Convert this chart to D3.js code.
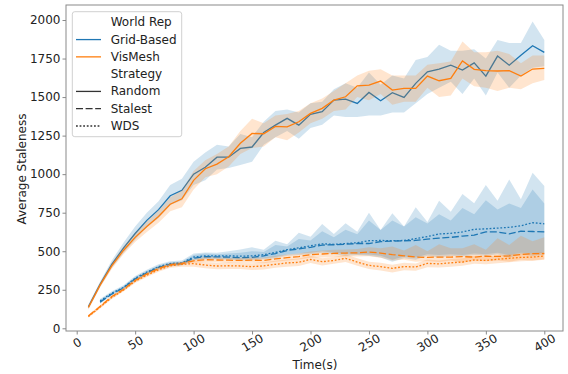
<!DOCTYPE html>
<html><head><meta charset="utf-8">
<script src="https://cdn.jsdelivr.net/npm/d3@7"></script>
<style>body{margin:0;background:#fff}svg{display:block}text{font-family:"DejaVu Sans",sans-serif;fill:#222}</style>
</head><body><svg id="c" width="568" height="374"></svg>
<script>
// ---------- data ----------
const timeFull = [10,20,30,40,50,60,70,80,90,100,110,120,130,140,150,160,170,180,190,200,210,220,230,240,250,260,270,280,290,300,310,320,330,340,350,360,370,380,390,400];
const timeGrid = [20,30,40,50,60,70,80,90,100,110,120,130,140,150,160,170,180,190,200,210,220,230,240,250,260,270,280,290,300,310,320,330,340,350,360,370,380,390,400];
const xTicks = [0,50,100,150,200,250,300,350,400];
const yTicks = [0,250,500,750,1000,1250,1500,1750,2000];
const worldReps = ["Grid-Based","VisMesh"];
const strategies = ["Random","Stalest","WDS"];

const gridRandomMean = [140,285,415,520,615,700,770,860,895,1000,1045,1110,1110,1167,1176,1270,1318,1362,1318,1388,1405,1480,1487,1459,1530,1476,1528,1498,1589,1664,1682,1707,1675,1722,1636,1766,1707,1772,1833,1790];
const gridRandomLo = [125,268,392,488,575,655,715,800,830,930,960,1030,1040,1060,1080,1190,1240,1280,1230,1300,1320,1380,1370,1370,1380,1380,1400,1400,1460,1520,1560,1600,1520,1620,1510,1660,1560,1640,1690,1700];
const gridRandomHi = [155,302,440,555,660,750,825,930,970,1080,1140,1190,1180,1260,1240,1340,1410,1420,1400,1460,1470,1550,1590,1560,1660,1580,1640,1620,1740,1760,1840,1800,1800,1810,1750,1870,1850,1850,1990,1870];

const gridStalestMean = [170,222,262,320,360,395,415,420,455,465,463,462,458,460,470,485,505,515,525,540,542,545,550,550,562,566,568,570,578,585,590,598,605,625,625,612,630,628,625];
const gridStalestLo = [160,212,252,308,348,382,402,408,440,448,448,445,440,442,448,455,470,475,480,490,480,470,475,470,460,432,455,445,470,460,470,465,475,470,480,460,480,470,478];
const gridStalestHi = [180,232,272,332,372,408,428,432,475,485,480,485,490,500,495,540,530,580,570,630,590,640,610,700,637,700,660,720,680,740,700,780,740,830,770,810,780,900,810];

const gridWdsMean = [178,228,265,325,365,400,420,425,462,470,470,470,468,470,478,492,510,522,535,548,545,550,555,568,570,568,570,582,595,612,616,625,642,645,650,655,665,685,678];
const gridWdsLo = [165,218,255,312,352,388,408,412,445,452,452,450,448,450,455,462,478,485,490,500,490,485,480,478,470,445,465,460,480,475,480,475,485,480,490,475,490,485,490];
const gridWdsHi = [190,240,280,340,380,415,435,440,485,492,490,500,512,525,510,568,545,620,594,676,612,681,627,750,637,746,660,785,690,827,756,871,811,929,827,966,837,1009,923];

const visRandomMean = [135,280,405,505,590,660,725,805,840,960,1035,1065,1113,1200,1264,1262,1310,1307,1340,1394,1427,1480,1502,1573,1578,1604,1545,1556,1556,1636,1606,1621,1735,1680,1671,1669,1671,1636,1682,1686];
const visRandomLo = [120,265,385,480,560,625,685,760,785,900,980,1000,1050,1130,1170,1180,1240,1220,1270,1330,1360,1410,1420,1500,1480,1520,1450,1470,1470,1560,1500,1510,1620,1570,1560,1540,1560,1550,1590,1610];
const visRandomHi = [150,295,425,530,620,695,765,850,895,1020,1090,1130,1180,1280,1360,1330,1380,1390,1410,1460,1490,1540,1590,1640,1670,1680,1640,1640,1640,1710,1720,1730,1860,1790,1790,1800,1780,1720,1770,1770];

const visStalestMean = [80,142,206,252,310,352,388,412,420,438,445,443,442,440,442,440,450,458,465,478,482,486,488,490,495,488,478,470,462,460,462,462,465,462,468,466,470,478,485,485];
const visStalestLo = [72,132,196,242,300,342,378,402,410,425,430,428,426,424,425,422,432,440,446,458,460,462,465,466,468,458,440,445,432,436,430,440,425,440,435,440,432,445,440,448];
const visStalestHi = [88,150,215,262,320,362,398,422,430,450,462,460,458,458,460,458,470,478,485,498,505,510,512,515,525,520,530,505,540,500,545,520,520,545,510,584,540,600,565,590];

const visWdsMean = [76,138,200,248,305,345,380,405,415,420,410,404,406,404,400,405,415,424,428,447,432,440,454,430,408,400,389,400,398,421,418,425,430,443,440,448,454,460,462,469];
const visWdsLo = [68,128,190,238,294,333,367,392,400,400,390,383,385,384,378,382,392,400,404,424,408,418,430,405,384,375,362,376,374,396,394,400,405,418,415,422,428,435,438,444];
const visWdsHi = [84,148,210,258,316,357,393,418,430,440,430,425,428,424,422,428,438,447,452,470,455,462,478,455,432,425,412,425,420,446,440,450,455,470,465,472,480,485,488,495];

// ---------- build series ----------
const colors = {"Grid-Based":"#1f77b4","VisMesh":"#ff7f0e"};
const dashes = {"Random":null,"Stalest":"7,2.6","WDS":"1.8,1.8"};
function mk(rep, strat, t, m, lo, hi){
  return {rep, strat, pts: t.map((x,i)=>({x, m:m[i], lo:lo[i], hi:hi[i]}))};
}
const series = [
  mk("Grid-Based","Random",timeFull,gridRandomMean,gridRandomLo,gridRandomHi),
  mk("Grid-Based","Stalest",timeGrid,gridStalestMean,gridStalestLo,gridStalestHi),
  mk("Grid-Based","WDS",timeGrid,gridWdsMean,gridWdsLo,gridWdsHi),
  mk("VisMesh","Random",timeFull,visRandomMean,visRandomLo,visRandomHi),
  mk("VisMesh","Stalest",timeFull,visStalestMean,visStalestLo,visStalestHi),
  mk("VisMesh","WDS",timeFull,visWdsMean,visWdsLo,visWdsHi)
];

// ---------- layout ----------
const svg = d3.select("#c");
const frame = {l:66, r:563, t:5, b:331};
const x = d3.scaleLinear().domain([0,400]).range([76.7,544.3]);
const y = d3.scaleLinear().domain([0,2000]).range([328.3,20]);
const axisCol = "#8a8a8a";

svg.append("clipPath").attr("id","pc").append("rect")
  .attr("x",frame.l).attr("y",frame.t).attr("width",frame.r-frame.l).attr("height",frame.b-frame.t);

const g = svg.append("g").attr("clip-path","url(#pc)");
const line = d3.line().x(d=>x(d.x)).y(d=>y(d.m));
const area = d3.area().x(d=>x(d.x)).y0(d=>y(d.lo)).y1(d=>y(d.hi));

series.forEach(s=>{
  g.append("path").datum(s.pts).attr("d",line)
    .attr("fill","none").attr("stroke",colors[s.rep]).attr("stroke-width",1.3)
    .attr("stroke-dasharray",dashes[s.strat]);
  g.append("path").datum(s.pts).attr("d",area)
    .attr("fill",colors[s.rep]).attr("fill-opacity",0.2).attr("stroke","none");
});

// frame
svg.append("rect").attr("x",frame.l).attr("y",frame.t)
  .attr("width",frame.r-frame.l).attr("height",frame.b-frame.t)
  .attr("fill","none").attr("stroke",axisCol).attr("stroke-width",1);

// y axis
const yAx = svg.append("g").attr("transform",`translate(${frame.l},0)`)
  .call(d3.axisLeft(y).tickValues(yTicks).tickFormat(d3.format("d")).tickSize(3.5).tickPadding(2));
yAx.select(".domain").remove();
yAx.selectAll("line").attr("stroke",axisCol);
yAx.selectAll("text").attr("font-size","12px").attr("fill","#222")
  .attr("font-family","DejaVu Sans, sans-serif");

// x axis
const xAx = svg.append("g").attr("transform",`translate(0,${frame.b})`)
  .call(d3.axisBottom(x).tickValues(xTicks).tickFormat(d3.format("d")).tickSize(3.5).tickPadding(0));
xAx.select(".domain").remove();
xAx.selectAll("line").attr("stroke",axisCol);
xAx.selectAll("text").attr("font-size","12px").attr("fill","#222")
  .attr("font-family","DejaVu Sans, sans-serif")
  .attr("y",0).attr("dy",null)
  .attr("text-anchor","middle").attr("dominant-baseline","central")
  .attr("transform","translate(0,12) rotate(-30)");

// axis labels
svg.append("text").attr("x",315).attr("y",369).attr("text-anchor","middle")
  .attr("font-size","12px").text("Time(s)");
svg.append("text").attr("transform","translate(22,169) rotate(-90)")
  .attr("text-anchor","middle").attr("dominant-baseline","central")
  .attr("font-size","12px").text("Average Staleness");

// legend
const leg = svg.append("g");
leg.append("rect").attr("x",72.3).attr("y",11.7).attr("width",109.4).attr("height",125)
  .attr("rx",2.5).attr("fill","#fff").attr("fill-opacity",0.8)
  .attr("stroke","#d0d0d0").attr("stroke-width",1);
const legItems = [
  {label:"World Rep"},
  ...worldReps.map(r=>({label:r, color:colors[r], dash:null})),
  {label:"Strategy"},
  ...strategies.map(s=>({label:s, color:"#333", dash:dashes[s]}))
];
legItems.forEach((it,i)=>{
  const cy = 22.3 + i*17.28;
  if(it.color){
    leg.append("line").attr("x1",76).attr("x2",101).attr("y1",cy).attr("y2",cy)
      .attr("stroke",it.color).attr("stroke-width",1.3).attr("stroke-dasharray",it.dash);
  }
  leg.append("text").attr("x",110.7).attr("y",cy).attr("dominant-baseline","central")
    .attr("font-size","12px").text(it.label);
});
</script>
</body></html>
